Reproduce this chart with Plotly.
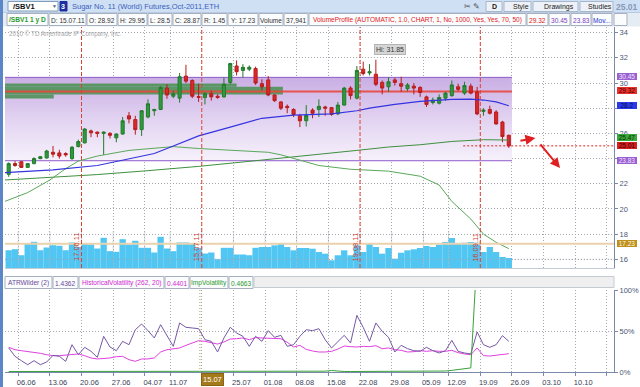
import plotly.graph_objects as go

# ---------------- data ----------------
dates = ["02.06.11","03.06.11","06.06.11","07.06.11","08.06.11","09.06.11","10.06.11",
         "13.06.11","14.06.11","15.06.11","16.06.11","17.06.11",
         "20.06.11","21.06.11","22.06.11","23.06.11","24.06.11",
         "27.06.11","28.06.11","29.06.11","30.06.11","01.07.11",
         "05.07.11","06.07.11","07.07.11","08.07.11",
         "11.07.11","12.07.11","13.07.11","14.07.11","15.07.11",
         "18.07.11","19.07.11","20.07.11","21.07.11","22.07.11",
         "25.07.11","26.07.11","27.07.11","28.07.11","29.07.11",
         "01.08.11","02.08.11","03.08.11","04.08.11","05.08.11",
         "08.08.11","09.08.11","10.08.11","11.08.11","12.08.11",
         "15.08.11","16.08.11","17.08.11","18.08.11","19.08.11",
         "22.08.11","23.08.11","24.08.11","25.08.11","26.08.11",
         "29.08.11","30.08.11","31.08.11","01.09.11","02.09.11",
         "06.09.11","07.09.11","08.09.11","09.09.11",
         "12.09.11","13.09.11","14.09.11","15.09.11","16.09.11",
         "19.09.11","20.09.11","21.09.11","22.09.11","23.09.11"]

opens = [22.75, 23.6, 23.75, 23.3, 23.6, 24.0, 24.05, 24.5, 24.45, 24.4,
         24.0, 24.95, 25.25, 26.2, 26.1, 26.0, 26.0, 25.65, 25.95, 27.4,
         27.1, 26.3, 27.3, 27.8, 27.9, 29.6, 28.95, 28.8, 30.55, 30.2,
         28.92, 28.85, 29.15, 28.95, 28.9, 30.05, 31.35, 31.0, 31.1, 31.15,
         29.95, 30.25, 29.05, 28.5, 28.15, 27.9, 27.4, 27.0, 27.85, 27.9,
         28.1, 28.05, 27.55, 28.25, 29.6, 28.8, 31.1, 30.8, 30.7, 30.05,
         29.7, 30.25, 29.95, 29.55, 29.75, 29.65, 28.9, 28.45, 28.4, 28.8,
         29.0, 29.7, 29.2, 29.75, 29.3, 27.75, 27.9, 27.7, 26.9, 25.85]
highs = [23.7, 23.8, 23.8, 23.65, 24.1, 24.2, 24.7, 25.0, 24.7, 24.5,
         25.0, 25.5, 26.4, 26.3, 26.15, 26.15, 26.1, 26.0, 27.3, 27.7,
         27.4, 27.85, 28.7, 27.95, 29.75, 29.9, 29.4, 30.8, 31.45, 30.3,
         29.95, 29.3, 29.4, 29.1, 30.45, 31.6, 31.8, 31.5, 31.4, 31.3,
         30.3, 30.55, 29.1, 28.55, 28.3, 28.0, 27.55, 28.25, 28.0, 28.7,
         28.2, 28.1, 28.5, 29.7, 29.75, 31.35, 31.7, 31.5, 31.85, 30.2,
         30.45, 30.4, 30.5, 30.0, 30.0, 29.75, 29.0, 28.85, 29.1, 29.3,
         30.2, 29.95, 30.1, 29.95, 29.7, 28.0, 28.2, 27.85, 27.0, 25.9]
lows = [22.55, 23.35, 23.25, 23.25, 23.55, 23.95, 24.0, 24.1, 24.0, 24.15,
        23.9, 24.9, 25.2, 25.7, 25.7, 24.3, 25.6, 25.3, 25.9, 26.8,
        25.9, 25.8, 27.2, 27.4, 27.85, 28.75, 28.8, 28.45, 30.0, 28.8,
        28.5, 28.3, 28.6, 28.75, 28.85, 29.9, 30.6, 30.45, 30.95, 29.85,
        29.4, 28.95, 28.5, 27.85, 27.6, 27.3, 26.5, 26.55, 27.2, 27.3,
        27.4, 27.4, 27.45, 28.2, 28.7, 28.7, 30.6, 30.6, 29.75, 29.1,
        29.3, 29.8, 29.3, 29.35, 29.1, 28.9, 28.1, 28.3, 28.3, 28.6,
        28.9, 29.35, 29.05, 29.1, 27.45, 27.4, 27.5, 26.7, 25.3, 24.85]
closes = [23.6, 23.45, 23.3, 23.6, 24.0, 24.15, 24.6, 24.35, 24.2, 24.3,
          24.9, 25.35, 26.35, 26.05, 26.0, 26.1, 25.85, 25.95, 27.0, 27.15,
          26.3, 27.8, 28.35, 27.9, 29.65, 29.05, 29.15, 30.5, 30.15, 28.95,
          28.87, 29.15, 28.9, 28.85, 29.9, 31.55, 30.9, 31.25, 31.25, 30.0,
          29.7, 29.05, 28.6, 28.0, 28.05, 27.5, 27.0, 27.42, 27.6, 28.15,
          28.0, 27.5, 28.25, 29.6, 29.0, 31.0, 30.75, 30.9, 29.9, 29.6,
          30.1, 30.05, 29.75, 29.85, 29.6, 29.25, 28.3, 28.65, 28.85, 29.2,
          29.85, 29.5, 29.8, 29.2, 27.55, 27.85, 27.6, 26.75, 25.75, 25.01]
volume = [33400, 35300, 24000, 46000, 49200, 33400, 38500, 42800, 41700, 33400,
          47900, 39800, 46000, 44100, 36600, 56700, 31600, 30400, 54100, 44100,
          51100, 37900, 37900, 29100, 58600, 36600, 31600, 47900, 47900, 46000,
          37941, 27200, 29100, 16500, 37900, 37900, 25400, 25400, 24000, 37900,
          39400, 39400, 42600, 45600, 39400, 33200, 37600, 37600, 36200, 30000,
          26900, 14500, 23900, 33200, 23900, 42600, 30000, 45600, 39400, 26900,
          37600, 17500, 28700, 33200, 35100, 37600, 41300, 39400, 43800, 48800,
          56300, 45600, 47500, 48800, 47500, 30000, 39400, 30000, 20700, 18800]

# moving averages / study lines (bar index, price)
ma50_x = [-0.6, 7, 14, 19, 23, 26, 30, 35, 40, 45, 51, 55, 57, 61, 65, 70, 73, 75, 77, 79]
ma50_y = [22.88, 23.1, 23.45, 24.0, 24.4, 25.0, 25.8, 26.5, 27.2, 27.45, 27.55, 27.8,
          28.0, 28.3, 28.55, 28.7, 28.72, 28.65, 28.5, 28.2]
ma200_x = [-0.6, 14, 22, 30, 38, 46, 50, 55, 60, 65, 70, 75, 79]
ma200_y = [22.3, 22.73, 23.04, 23.38, 23.78, 24.17, 24.36, 24.65, 24.92, 25.1, 25.36, 25.5, 25.47]
study_x = [-0.6, 3, 6.5, 9, 11, 14, 19, 26, 30, 35, 41, 43, 46, 49, 54, 60, 65, 68, 70, 73, 75, 77, 79]
study_y = [20.6, 21.3, 22.3, 23.2, 23.8, 24.2, 24.65, 24.95, 24.8, 24.65, 24.5, 24.3, 23.85,
           23.45, 23.15, 23.0, 22.6, 21.9, 20.6, 19.2, 18.0, 17.35, 16.85]

# lower panel studies (fraction of panel scale)
atr = [0.293, 0.191, 0.138, 0.089, 0.138, 0.089, 0.122, 0.203, 0.191, 0.13,
       0.333, 0.211, 0.301, 0.252, 0.179, 0.435, 0.305, 0.26, 0.374, 0.333,
       0.516, 0.585, 0.504, 0.415, 0.577, 0.447, 0.313, 0.598, 0.545, 0.537,
       0.528, 0.394, 0.374, 0.244, 0.415, 0.545, 0.476, 0.435, 0.313, 0.435,
       0.374, 0.504, 0.423, 0.447, 0.313, 0.333, 0.435, 0.516, 0.504, 0.528,
       0.394, 0.293, 0.374, 0.447, 0.354, 0.691, 0.545, 0.374, 0.598, 0.496,
       0.423, 0.244, 0.325, 0.285, 0.26, 0.252, 0.301, 0.26, 0.232, 0.26,
       0.386, 0.252, 0.232, 0.22, 0.488, 0.333, 0.301, 0.333, 0.443, 0.374]
hv = [0.301, 0.272, 0.26, 0.252, 0.24, 0.228, 0.211, 0.199, 0.199, 0.203,
      0.211, 0.22, 0.199, 0.171, 0.159, 0.163, 0.171, 0.187, 0.191, 0.15,
      0.13, 0.159, 0.159, 0.171, 0.244, 0.272, 0.284, 0.293, 0.325, 0.354,
      0.382, 0.374, 0.354, 0.341, 0.366, 0.402, 0.406, 0.415, 0.394, 0.42,
      0.415, 0.415, 0.415, 0.406, 0.362, 0.305, 0.325, 0.276, 0.256, 0.244,
      0.244, 0.252, 0.28, 0.317, 0.309, 0.305, 0.313, 0.309, 0.321, 0.284,
      0.293, 0.272, 0.264, 0.244, 0.248, 0.26, 0.252, 0.26, 0.252, 0.252,
      0.264, 0.236, 0.22, 0.211, 0.293, 0.199, 0.195, 0.203, 0.211, 0.223]
iv = [0.006] * 50 + [0.01, 0.018, 0.01] + [0.006] * 16 + [0.012, 0.02, 0.03, 0.042, 0.05] + [1.45] * 6

week_labels = ["06.06", "13.06", "20.06", "27.06", "04.07", "11.07", "18.07", "25.07", "01.08", "08.08",
               "15.08", "22.08", "29.08", "05.09", "12.09", "19.09", "26.09", "03.10", "10.10", "17.10"]
hidden_labels = ["18.07", "17.10"]     # covered by the cursor box / beyond the edge in the original
price_ticks = [16, 18, 20, 22, 24, 26, 28, 30, 32, 34]
hidden_price_ticks = [24, 28]          # hidden behind value bubbles in the original
expiry_dates = ["17.06.11", "15.07.11", "19.08.11", "16.09.11"]
cursor_date = "15.07.11"

vp_high, vp_poc, vp_low = 30.45, 29.32, 23.83
vp_rows_lo = [29.70, 29.09, 28.77]
vp_rows_hi = [29.96, 29.70, 29.09]
vp_rows_len = [36.6, 43.9, 7.7]          # profile length, in bar slots
y_level = 17.23
arrows = [((80.6, 25.40), (83.2, 25.64)), ((83.8, 25.24), (87.1, 23.25))]
price_line_start = 71.8

# ---------------- layout helpers ----------------
FONT = "Liberation Sans, Arial, sans-serif"
W, H = 640, 387
ML, MR, MT, MB = 5, 26, 27, 15
PW, PH = W - ML - MR, H - MT - MB


def px(x):
    return (x - ML) / PW


def py(y):
    return (H - MB - y) / PH


n = len(dates)
idx = list(range(n))
XR = [-0.585, 95.62]
x_left = XR[0]
vp_right = n - 0.5


def week_pos(lbl):
    d, m = int(lbl[:2]), int(lbl[3:5])
    for i, s in enumerate(dates):
        if (int(s[3:5]), int(s[:2])) >= (m, d):
            return i - 0.5
    return None


tickpos = []
for lbl in week_labels:
    p = week_pos(lbl)
    if p is None:
        p = tickpos[-1] + 5
    tickpos.append(p)
ticktext = [("" if l in hidden_labels else l) for l in week_labels]
price_ticktext = [("" if t in hidden_price_ticks else str(t)) for t in price_ticks]

shapes, ann = [], []


def prect(x0, x1, y0, y1, fill, line=None, lw=1):
    shapes.append(dict(type="rect", xref="paper", yref="paper", x0=px(x0), x1=px(x1),
                       y0=py(y1), y1=py(y0), fillcolor=fill, layer="above",
                       line=dict(color=line or fill, width=lw if line else 0)))


def ptext(x, y, text, color="#222", size=7, anchor="center", bold=False):
    ann.append(dict(xref="paper", yref="paper", x=px(x), y=py(y), showarrow=False,
                    text=("<b>%s</b>" % text) if bold else text, xanchor=anchor, yanchor="middle",
                    font=dict(family=FONT, size=size, color=color)))


def cell(x0, x1, y0, y1, text, color, bold=False, fill="#fbfcfd", border="#a6b0c0", size=6.6):
    prect(x0, x1, y0, y1, fill, border)
    if text:
        ptext((x0 + x1) / 2, (y0 + y1) / 2 + 0.5, text, color, size, "center", bold)


fig = go.Figure()

# value area (gradient)
fig.add_trace(go.Scatter(x=[x_left - 1, vp_right, vp_right, x_left - 1, x_left - 1],
                         y=[vp_low, vp_low, vp_high, vp_high, vp_low], mode="none", fill="toself",
                         fillgradient=dict(type="vertical",
                                           colorscale=[[0, "#f6f1fb"], [0.5, "#e2d3f1"], [1, "#c9aee4"]]),
                         hoverinfo="skip", xaxis="x", yaxis="y"))
# volume profile rows
for lo, hi, ln in zip(vp_rows_lo, vp_rows_hi, vp_rows_len):
    fig.add_trace(go.Scatter(x=[x_left, x_left + ln, x_left + ln, x_left, x_left],
                             y=[lo, lo, hi, hi, lo], mode="none", fill="toself",
                             fillcolor="rgba(78,146,88,0.9)", hoverinfo="skip", xaxis="x", yaxis="y"))
for lvl in (vp_high, vp_low):
    fig.add_trace(go.Scatter(x=[x_left - 1, vp_right], y=[lvl, lvl], mode="lines",
                             line=dict(color="#8d5cc9", width=1), hoverinfo="skip", xaxis="x", yaxis="y"))
fig.add_trace(go.Scatter(x=[x_left - 1, vp_right], y=[vp_poc, vp_poc], mode="lines",
                         line=dict(color="rgba(232,72,60,0.9)", width=2), hoverinfo="skip",
                         xaxis="x", yaxis="y"))

# volume bars
fig.add_trace(go.Bar(x=idx, y=volume, width=1.0, marker=dict(color="#52c6f2", line=dict(width=0)),
                     xaxis="x", yaxis="y3", hoverinfo="skip"))

# candles
fig.add_trace(go.Candlestick(x=idx, open=opens, high=highs, low=lows, close=closes,
                             increasing=dict(line=dict(color="#237a2d", width=1), fillcolor="#2f9a3c"),
                             decreasing=dict(line=dict(color="#b81c1c", width=1), fillcolor="#d82a2a"),
                             whiskerwidth=0, hoverinfo="skip", xaxis="x", yaxis="y4"))
fig.add_trace(go.Scatter(x=ma200_x, y=ma200_y, mode="lines", line=dict(color="#3f8f3f", width=1),
                         xaxis="x", yaxis="y4", hoverinfo="skip"))
fig.add_trace(go.Scatter(x=study_x, y=study_y, mode="lines", line=dict(color="#5aa85a", width=1),
                         xaxis="x", yaxis="y4", hoverinfo="skip"))
fig.add_trace(go.Scatter(x=ma50_x, y=ma50_y, mode="lines", line=dict(color="#3434e0", width=1.2),
                         xaxis="x", yaxis="y4", hoverinfo="skip"))

# lower panel studies
fig.add_trace(go.Scatter(x=idx, y=hv, mode="lines", line=dict(color="#e040e0", width=1),
                         xaxis="x2", yaxis="y2", hoverinfo="skip"))
fig.add_trace(go.Scatter(x=idx, y=atr, mode="lines", line=dict(color="#7658a6", width=1),
                         xaxis="x2", yaxis="y2", hoverinfo="skip"))
fig.add_trace(go.Scatter(x=idx, y=iv, mode="lines", line=dict(color="#3aa03a", width=1),
                         xaxis="x2", yaxis="y2", hoverinfo="skip"))

# ---- in-chart shapes ----
GRID = "#a4a8b0"
for p in tickpos:
    if p < vp_right:
        shapes.append(dict(type="line", xref="x", yref="y", x0=p, x1=p, y0=15.2, y1=18.2,
                           line=dict(color=GRID, width=1, dash="1px,2px"), layer="above"))
shapes.append(dict(type="line", xref="x", yref="y", x0=XR[0] - 1, x1=XR[1] + 1, y0=16, y1=16,
                   line=dict(color=GRID, width=1, dash="1px,2px"), layer="above"))
shapes.append(dict(type="line", xref="x", yref="y", x0=XR[0] - 1, x1=XR[1] + 1, y0=y_level, y1=y_level,
                   line=dict(color="#ead2ae", width=2), layer="above"))
for ed in expiry_dates:
    xe = dates.index(ed) + 0.5
    shapes.append(dict(type="line", xref="x", yref="y domain", x0=xe, x1=xe, y0=0, y1=1,
                       line=dict(color="#e04030", width=1, dash="4px,2px"), layer="above"))
    ann.append(dict(xref="x", yref="paper", x=xe, y=py(247), xshift=-4.5, text=ed, textangle=-90,
                    showarrow=False, xanchor="center", yanchor="middle",
                    font=dict(family=FONT, size=7.5, color="#d03a30")))
shapes.append(dict(type="line", xref="x", yref="y", x0=price_line_start, x1=XR[1] + 1,
                   y0=closes[-1], y1=closes[-1], line=dict(color="#e02020", width=1, dash="2px,2px"),
                   layer="above"))
xc = dates.index(cursor_date)
shapes.append(dict(type="line", xref="x2", yref="y2 domain", x0=xc + 0.2, x1=xc + 0.2, y0=0, y1=1,
                   line=dict(color="#b0a050", width=1, dash="1px,2px"), layer="above"))

# arrows
for (tx, ty), (hx, hy) in arrows:
    ann.append(dict(xref="x", yref="y", axref="x", ayref="y", x=hx, y=hy, ax=tx, ay=ty, text="",
                    showarrow=True, arrowhead=2, arrowsize=1, arrowwidth=2, arrowcolor="#e02020"))

# Hi bubble
hi_i = highs.index(max(highs))
ann.append(dict(xref="x", yref="y", x=hi_i, y=max(highs), xshift=14, yshift=10,
                text="Hi: %.2f" % max(highs), showarrow=False, bgcolor="#d6d6d6", bordercolor="#b4b4b4",
                borderwidth=1, borderpad=1, font=dict(family=FONT, size=7, color="#333")))

# cursor date box on the axis
ann.append(dict(xref="x", yref="paper", x=xc, y=py(379.5), xshift=2.4, text=cursor_date[:5],
                showarrow=False, xanchor="left", yanchor="middle", bgcolor="#a57a1a",
                bordercolor="#8a6410", borderwidth=1, borderpad=1,
                font=dict(family=FONT, size=7.5, color="#ffffff")))

# right-side value bubbles
bubbles = [(vp_high, "%.2f" % vp_high, "#9a5fd0", "#efe4ff", 1),
           (vp_poc, "%.2f" % vp_poc, "#e8302a", "#4a0000", 1),
           (ma50_y[-1], "%.1f" % ma50_y[-1], "#2a3ae8", "#0a0a50", 0),
           (ma200_y[-1], "%.2f" % ma200_y[-1], "#3aa83a", "#063006", 3.0),
           (closes[-1], "%.2f" % closes[-1], "#d42020", "#3a0000", 0.5),
           (vp_low, "%.2f" % vp_low, "#9a5fd0", "#efe4ff", 0),
           (y_level, "%.2f" % y_level, "#c0901c", "#fff6e0", 0)]
for val, txt, bg, fc, sh in bubbles:
    ann.append(dict(xref="paper", yref="y", x=px(617), y=val, yshift=sh, text=txt, showarrow=False,
                    xanchor="left", yanchor="middle", bgcolor=bg, bordercolor=bg, borderwidth=0,
                    borderpad=0, width=20, font=dict(family=FONT, size=6.5, color=fc)))

# ---- window chrome / headers ----
prect(0, 640, 0, 12.5, "#cfe0f4")
shapes.append(dict(type="line", xref="paper", yref="paper", x0=px(0), x1=px(640), y0=py(12.5),
                   y1=py(12.5), line=dict(color="#8fa9cf", width=1), layer="above"))
prect(8, 58, 1.5, 11, "#ffffff", "#7f9db9")
ptext(11, 6.5, "/SBV1", "#111", 7.5, "left", True)
ptext(54, 6, "▼", "#556070", 5)
prect(60, 67, 1.5, 11, "#1d2f9e", "#1d2f9e")
ptext(63.5, 6.5, "3", "#ffffff", 7, "center", True)
ptext(70, 6.5, "Sugar No. 11 (World) Futures,Oct-2011,ETH", "#3a5fc0", 7.5, "left")
ptext(467, 6.5, "✂", "#555", 8)
ptext(476, 6.5, "✎", "#555", 8)
for x0, x1, t in [(486, 502, "<b>D</b>"), (504, 531, "Style"), (533, 578, "Drawings"), (580, 613, "Studies")]:
    prect(x0, x1, 1.5, 11.5, "#eef2f8", "#a8b8cc")
    ptext((x0 + x1) / 2 + (3 if x1 - x0 > 20 else 0), 6.7, t, "#222", 7)
ptext(627, 6.5, "%.2f" % closes[-1], "#8797b8", 8.5, "center", True)

prect(0, 640, 12.5, 26.5, "#e6ecf4")
c = xc
hdr = [(7, 48, "/SBV1 1 y D", "#2b9b2b", True),
       (49, 86, "D: " + dates[c], "#333", False),
       (87, 117, "O: %.2f" % opens[c], "#333", False),
       (118, 147, "H: %.2f" % highs[c], "#333", False),
       (148, 172, "L: %g" % lows[c], "#333", False),
       (173, 201, "C: %.2f" % closes[c], "#333", False),
       (202, 227, "R: %.2f" % (highs[c] - lows[c]), "#333", False),
       (228, 258, "Y: %.2f" % y_level, "#333", False),
       (259, 283, "Volume", "#333", False),
       (284, 308, "{:,}".format(volume[c]), "#333", False),
       (309, 526, "VolumeProfile (AUTOMATIC, 1.0, CHART, 1, No, 1000, Yes, Yes, 70, 50)", "#e02020", False),
       (527, 548, "%.2f" % vp_poc, "#e02020", False),
       (549, 570, "%.2f" % vp_high, "#8040c0", False),
       (571, 591, "%.2f" % vp_low, "#8040c0", False),
       (592, 612, "Mov...", "#2030d0", False),
       (614, 627, "", "#333", False)]
for x0, x1, t, col, b in hdr:
    cell(x0, x1, 13.5, 25.5, t, col, b, size=(6.5 if x1 - x0 > 100 else 6.6))
ptext(7, 33.5, "2010 © TD Ameritrade IP Company, Inc.", "#a8a8a8", 6.3, "left")

low_hdr = [(5, 52, "ATRWilder (2)", "#6a4a9a"), (53, 78, "1.4362", "#6a4a9a"),
           (79, 164, "HistoricalVolatility (262, 20)", "#d028d0"), (165, 189, "0.4401", "#d028d0"),
           (190, 228, "ImpVolatility", "#2a9a2a"), (229, 253, "0.4663", "#2a9a2a")]
for x0, x1, t, col in low_hdr:
    cell(x0, x1, 276.5, 288.5, t, col)
prect(254, 614, 276.5, 287.5, "#efefef", "#c4cad4")
prect(0, 3, 0, 387, "#5b87c6")

AX = "#7a8aa8"
TF = dict(family=FONT, size=7.5, color="#4a5878")
fig.update_layout(
    width=W, height=H, autosize=False, showlegend=False, hovermode=False,
    margin=dict(l=ML, r=MR, t=MT, b=MB, autoexpand=False),
    paper_bgcolor="#ffffff", plot_bgcolor="#ffffff",
    xaxis=dict(domain=[0, 1], range=XR, anchor="y", tickvals=tickpos, showticklabels=False,
               showgrid=True, gridcolor=GRID, griddash="1px,2px", gridwidth=1, zeroline=False,
               showline=True, linecolor="#c4ccd8", linewidth=1, ticks="", rangeslider=dict(visible=False)),
    yaxis=dict(domain=[py(268), 1], range=[15.31, 34.45], side="right", tickvals=price_ticks,
               ticktext=price_ticktext,
               ticks="outside", ticklen=3, tickcolor=AX, showline=True, linecolor=AX, linewidth=1,
               showgrid=True, gridcolor=GRID, griddash="1px,2px", zeroline=False, tickfont=TF),
    yaxis3=dict(overlaying="y", anchor="x", range=[0, 452600], visible=False, showgrid=False),
    yaxis4=dict(overlaying="y", anchor="x", range=[15.31, 34.45], visible=False, showgrid=False),
    xaxis2=dict(domain=[0, 1], anchor="y2", matches="x", range=XR, tickvals=tickpos, ticktext=ticktext,
                ticks="outside", ticklen=3, tickcolor=AX, showline=True, linecolor=AX, linewidth=1,
                showgrid=True, gridcolor=GRID, griddash="1px,2px", zeroline=False,
                tickfont=dict(family=FONT, size=7.5, color="#3a4258"), ticklabelshift=8),
    yaxis2=dict(domain=[0, py(290)], range=[0, 1], side="right", tickvals=[0, 0.5, 1],
                ticktext=["0%", "50%", "100%"], ticks="outside", ticklen=3, tickcolor=AX, showline=True,
                linecolor=AX, linewidth=1, showgrid=True, gridcolor=GRID, griddash="1px,2px",
                zeroline=False, tickfont=TF),
    shapes=shapes, annotations=ann,
)

fig.write_html("out.html", config={"displayModeBar": False},
               post_script="document.body.style.margin='0px';document.body.style.overflow='hidden';")
